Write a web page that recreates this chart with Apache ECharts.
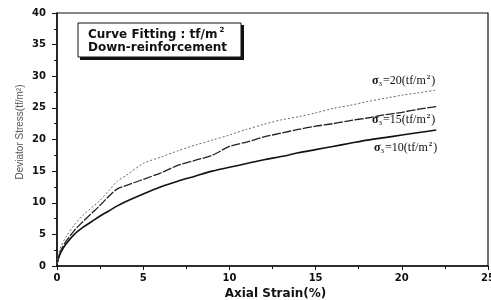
<!DOCTYPE html>
<html><head><meta charset="utf-8">
<script src="https://cdn.jsdelivr.net/npm/echarts@6/dist/echarts.min.js"></script>
<style>html,body{margin:0;padding:0;background:#fff}#c{width:491px;height:300px}</style>
</head><body><div id="c"></div>
<script>
var strain = [0,0.1,0.25,0.5,1,1.5,2,2.5,3,3.5,4,5,6,7,8,9,10,11,12,13,14,15,16,17,18,19,20,21,22];
var s10 = [0.3,1.3,2.3,3.4,5.0,6.1,7.0,7.9,8.7,9.5,10.2,11.4,12.5,13.4,14.2,15.0,15.6,16.2,16.8,17.3,17.9,18.4,18.9,19.4,19.9,20.3,20.7,21.1,21.5];
var s15 = [0.3,1.5,2.6,3.8,5.6,7.0,8.3,9.6,11.0,12.2,12.7,13.7,14.7,15.9,16.7,17.5,18.9,19.6,20.4,21.0,21.6,22.1,22.5,23.0,23.4,23.9,24.3,24.8,25.2];
var s20 = [0.3,2.0,3.2,4.5,6.5,8.0,9.2,10.4,11.9,13.4,14.3,16.2,17.2,18.2,19.1,19.9,20.7,21.6,22.4,23.1,23.6,24.2,24.9,25.4,26.0,26.5,27.0,27.4,27.8];
var seriesNames = ['10','15','20'];
var xName = 'Axial Strain(%)';
var yName = 'Deviator Stress(tf/m²)';

function pairs(ys){ return strain.map(function(x,i){return [x, ys[i]];}); }
var chart = echarts.init(document.getElementById('c'));
var SANS = 'DejaVu Sans, Verdana, sans-serif';
var SERIF = 'Liberation Serif, Times New Roman, serif';
var tickFont = {fontFamily:SANS, fontSize:10, fontWeight:'bold', color:'#111'};
function sigmaLabel(v){
  return {type:'text', style:{
    text:'{s|σ}{sub|3}{n|=' + v + '(tf/m}{sup|2}{n|)}',
    rich:{
      s:{fontFamily:SERIF, fontSize:12, fontWeight:'bold', fill:'#111'},
      sub:{fontFamily:SERIF, fontSize:7, fill:'#111', padding:[7,1,0,0]},
      n:{fontFamily:SERIF, fontSize:12, fill:'#111'},
      sup:{fontFamily:SERIF, fontSize:7, fontWeight:'bold', fill:'#111', padding:[0,1,7,1]}
    }
  }};
}
var l20 = sigmaLabel(seriesNames[2]); l20.left = 372; l20.top = 74;
var l15 = sigmaLabel(seriesNames[1]); l15.left = 372; l15.top = 113;
var l10 = sigmaLabel(seriesNames[0]); l10.left = 374; l10.top = 141;

chart.setOption({
  animation:false,
  grid:{left:57, right:3, top:13, bottom:34, show:true, borderColor:'#111', borderWidth:1.2,
    containLabel:false, outerBoundsMode:'none'},
  xAxis:{type:'value', min:0, max:25, interval:5,
    name:xName, nameLocation:'middle', nameGap:20,
    nameTextStyle:{fontFamily:SANS, fontSize:12, fontWeight:'bold', color:'#111', padding:[0,0,0,6]},
    axisLine:{lineStyle:{color:'#111', width:1.5}},
    axisTick:{show:true, length:4, lineStyle:{color:'#111'}},
    minorTick:{show:true, splitNumber:2, length:3, lineStyle:{color:'#111'}},
    splitLine:{show:false},
    axisLabel:Object.assign({margin:7}, tickFont)},
  yAxis:{type:'value', min:0, max:40, interval:5,
    axisLine:{lineStyle:{color:'#111', width:1.5}},
    axisTick:{show:true, length:5, lineStyle:{color:'#111'}},
    minorTick:{show:true, splitNumber:2, length:3, lineStyle:{color:'#111'}},
    splitLine:{show:false},
    axisLabel:Object.assign({margin:11}, tickFont)},
  series:[
    {type:'line', name:seriesNames[0], data:pairs(s10), symbol:'none', smooth:0.3,
      lineStyle:{color:'#111', width:1.6}},
    {type:'line', name:seriesNames[1], data:pairs(s15), symbol:'none', smooth:0.3,
      lineStyle:{color:'#222', width:1.3, type:[9,1.5]}},
    {type:'line', name:seriesNames[2], data:pairs(s20), symbol:'none', smooth:0.3,
      lineStyle:{color:'#666', width:1, type:[2,2]}}
  ],
  graphic:[
    {type:'text', x:20, y:132, rotation:Math.PI/2, style:{
      text:yName, fontFamily:'Liberation Sans, Arial, sans-serif', fontSize:10, fill:'#555',
      textAlign:'center', textVerticalAlign:'middle'}},
    {type:'rect', shape:{x:80, y:25, width:164, height:35}, style:{fill:'#111'}},
    {type:'rect', shape:{x:78, y:23, width:163, height:34}, style:{fill:'#fff', stroke:'#111', lineWidth:1}},
    {type:'text', left:88, top:27, style:{
      text:'{a|Curve Fitting : tf/m}{b|2}',
      rich:{a:{fontFamily:SANS, fontSize:12, fontWeight:'bold', fill:'#111'},
            b:{fontFamily:SANS, fontSize:7, fontWeight:'bold', fill:'#111', padding:[0,0,8,2]}}}},
    {type:'text', left:88, top:42, style:{
      text:'Down-reinforcement', fontFamily:SANS, fontSize:12, fontWeight:'bold', fill:'#111'}},
    l20, l15, l10
  ]
});
</script>
</body></html>
